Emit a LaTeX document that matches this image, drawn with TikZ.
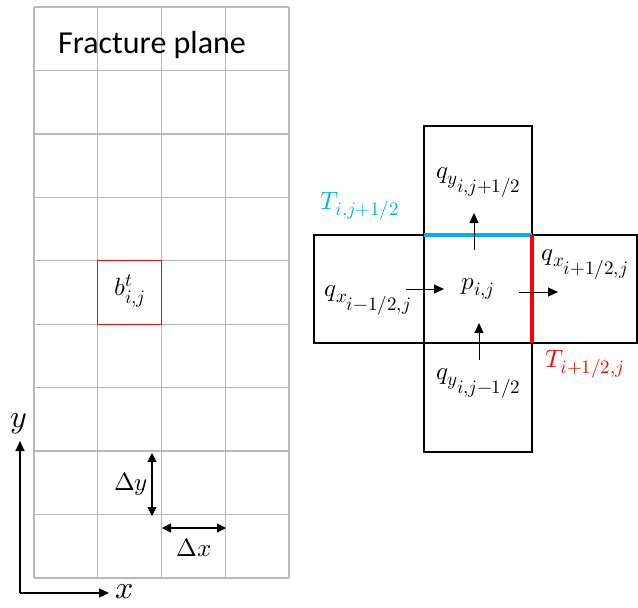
\documentclass[tikz,border=0pt]{standalone}
\usepackage{fontspec}
\usepackage{unicode-math}
\newfontfamily\labelfont{Carlito}
\DeclareMathSizes{25}{25}{19}{19}
\usetikzlibrary{arrows.meta,positioning}
\definecolor{faceblue}{RGB}{0,176,240}
\definecolor{facered}{RGB}{255,0,0}
\definecolor{gridgray}{RGB}{185,185,185}

\begin{document}
\begin{tikzpicture}[x=1pt,y=-1pt,
  gridline/.style={draw=gridgray, line width=1.4pt},
  cellline/.style={draw=black, line width=1.5pt},
  flux/.style={-{Triangle[length=10pt,width=9pt]}, line width=1pt},
  spacing/.style={{Triangle[length=9pt,width=9pt]}-{Triangle[length=9pt,width=9pt]}, line width=1.2pt},
  lbl/.style={font=\fontsize{25}{30}\selectfont, inner sep=0pt},
  axislbl/.style={font=\fontsize{32}{38}\selectfont, inner sep=0pt}]
\useasboundingbox (0,0) rectangle (638,608);
% Fracture plane grid, 4 x 9 cells
\foreach \c in {0,...,4} {
  \draw[gridline] ({34+63.75*\c},7) -- ({34+63.75*\c},578);
}
\foreach \r in {0,...,9} {
  \draw[gridline] (34,{7+63.44*\r}) -- (289,{7+63.44*\r});
}
\node[font=\labelfont\fontsize{32}{38}\selectfont, anchor=base, inner sep=0pt] (title) at (152,53) {Fracture plane};
% aperture cell
\draw[facered, line width=1.3pt] (97.75,260.76) rectangle (161.5,324.2);
\node[lbl] (bij) at (130,291) {$b^t_{i,j}$};
% axes
\coordinate (origin) at (20,593);
\coordinate (ytip) at (20,441);
\coordinate (xtip) at (109,593);
\draw[flux, line width=1.2pt] (origin) -- (ytip);
\draw[flux, line width=1.2pt] (origin) -- (xtip);
\node[axislbl] (ylab) at (19,424) {$y$};
\node[axislbl] (xlab) at (125,592) {$x$};
% cell spacing
\coordinate (dyTop) at (152,453);
\coordinate (dyBot) at (152,516);
\draw[spacing] (dyTop) -- (dyBot);
\node[lbl] (dylab) at (131,484) {$\Delta y$};
\coordinate (dxLeft) at (162,528);
\coordinate (dxRight) at (226,528);
\draw[spacing] (dxLeft) -- (dxRight);
\node[lbl] (dxlab) at (194,548) {$\Delta x$};

% Five-point stencil
\draw[cellline] (424,126) rectangle (532,235);
\draw[cellline] (314,235) rectangle (424,343);
\draw[cellline] (424,235) rectangle (532,343);
\draw[cellline] (532,235) rectangle (637,343);
\draw[cellline] (424,343) rectangle (532,452);
\draw[faceblue, line width=4pt] (424,235) -- (532,235);
\draw[facered, line width=4.5pt] (532,235) -- (532,343);
% labels
\node[lbl] (pij) at (478,289) {$p_{i,j}$};
\node[lbl, text=faceblue] (Tn) at (360,206) {$T_{i,j+1/2}$};
\node[lbl, text=facered] (Te) at (585,364) {$T_{i+1/2,j}$};
\node[lbl] (qn) at (479,182) {$q_{y_{i,j+1/2}}$};
\node[lbl] (qs) at (479,383) {$q_{y_{i,j-1/2}}$};
\node[lbl] (qw) at (368,300) {$q_{x_{i-1/2,j}}$};
\node[lbl] (qe) at (585,264) {$q_{x_{i+1/2,j}}$};
% fluxes
\coordinate (nS) at (474,250);
\coordinate (nE) at (474,213);
\coordinate (sS) at (479,360);
\coordinate (sE) at (479,323);
\coordinate (wS) at (406,289);
\coordinate (wE) at (444,289);
\coordinate (eS) at (519,292);
\coordinate (eE) at (558,292);
\draw[flux] (nS) -- (nE);
\draw[flux] (sS) -- (sE);
\draw[flux] (wS) -- (wE);
\draw[flux] (eS) -- (eE);
\end{tikzpicture}
\end{document}
